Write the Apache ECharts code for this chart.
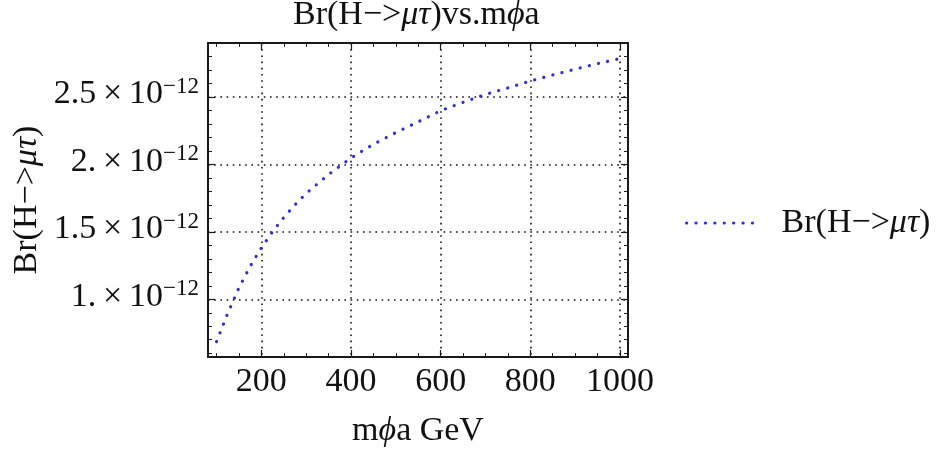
<!DOCTYPE html>
<html>
<head>
<meta charset="utf-8">
<script src="https://cdn.jsdelivr.net/npm/echarts@6/dist/echarts.min.js"></script>
<style>
  html, body { margin: 0; padding: 0; background: #ffffff; }
  #chart { width: 941px; height: 453px; }
</style>
</head>
<body>
<div id="chart"></div>
<script>
// Scalar mass m_phi_a (GeV)
const massGeV = [100, 125, 150, 175, 200, 225, 250, 275, 300, 350, 400, 450,
                 500, 550, 600, 650, 700, 750, 800, 850, 900, 950, 1000];
// Branching ratio Br(H -> mu tau) at each mass
const branching = [0.686e-12, 0.896e-12, 1.085e-12, 1.244e-12, 1.381e-12, 1.501e-12,
                   1.606e-12, 1.700e-12, 1.785e-12, 1.925e-12, 2.048e-12, 2.149e-12,
                   2.236e-12, 2.316e-12, 2.398e-12, 2.460e-12, 2.519e-12, 2.567e-12,
                   2.618e-12, 2.663e-12, 2.706e-12, 2.747e-12, 2.785e-12];

// Tick positions
const xMajorTicks = [200, 400, 600, 800, 1000];
const xMinorTicks = [100, 150, 250, 300, 350, 450, 500, 550, 650, 700, 750, 850, 900, 950];
const yMajorTicks = [1.0e-12, 1.5e-12, 2.0e-12, 2.5e-12];
const yMinorTicks = [0.6e-12, 0.7e-12, 0.8e-12, 0.9e-12, 1.1e-12, 1.2e-12, 1.3e-12, 1.4e-12,
                     1.6e-12, 1.7e-12, 1.8e-12, 1.9e-12, 2.1e-12, 2.2e-12, 2.3e-12, 2.4e-12,
                     2.6e-12, 2.7e-12, 2.8e-12];

const xRange = [81, 1018];
const yRange = [0.572e-12, 2.9e-12];

const seriesName = 'Br(H\u2212>\u03bc\u03c4)';

const FONT = 'Liberation Serif';
const INK = '#111111';
const FRAME = '#1a1a1a';
const CURVE = '#2f2fd2';

const italic = { fontFamily: FONT, fontSize: 34, fontStyle: 'italic', color: INK };

// "2.5 x 10^-12" style labels
function sciLabel(v) {
  const m = Math.round(v / 1e-12 * 10) / 10;
  const mant = Number.isInteger(m) ? m + '.' : String(m);
  return '{m|' + mant + '\u2009\u00d7\u200910}{e|\u221212}';
}

const frameLine = { show: true, onZero: false, lineStyle: { color: FRAME, width: 2 } };
const noLine = { show: false, onZero: false };
const gridDots = { show: true, lineStyle: { color: INK, width: 1.6, type: [1.6, 4.6] } };

function majorTick(values) {
  return { show: true, inside: true, length: 7, customValues: values, lineStyle: { color: FRAME, width: 1.2 } };
}
function minorTick(values) {
  return { show: true, inside: true, length: 4, customValues: values, lineStyle: { color: FRAME, width: 1 } };
}

const chart = echarts.init(document.getElementById('chart'));

chart.setOption({
  animation: false,
  backgroundColor: '#ffffff',
  title: {
    text: 'Br(H\u2212>{i|\u03bc\u03c4})vs.m{i|\u03d5}a',
    left: 293,
    top: -2,
    padding: 0,
    textStyle: { fontFamily: FONT, fontSize: 34, fontWeight: 'normal', color: INK, rich: { i: italic } }
  },
  legend: {
    data: [seriesName],
    left: 685,
    top: 206,
    padding: 0,
    itemWidth: 72,
    itemHeight: 14,
    itemStyle: { opacity: 0 },
    lineStyle: { color: CURVE, width: 3.2, type: [0.1, 9.3], cap: 'round' },
    formatter: () => 'Br(H\u2212>{i|\u03bc\u03c4})',
    textStyle: { fontFamily: FONT, fontSize: 34, color: INK, padding: [0, 0, 0, 18], rich: { i: italic } }
  },
  grid: { left: 208, top: 43, width: 420, height: 314, containLabel: false, outerBoundsMode: 'none' },
  xAxis: [
    {
      type: 'value', position: 'bottom', min: xRange[0], max: xRange[1],
      axisLine: frameLine,
      axisTick: majorTick(xMajorTicks),
      axisLabel: {
        show: true, customValues: xMajorTicks, margin: 8,
        formatter: v => String(v),
        fontFamily: FONT, fontSize: 34, color: INK
      },
      splitLine: gridDots,
      name: 'm{i|\u03d5}a GeV',
      nameLocation: 'middle',
      nameGap: 57,
      nameTextStyle: { fontFamily: FONT, fontSize: 34, color: INK, rich: { i: italic } }
    },
    {
      type: 'value', position: 'bottom', min: xRange[0], max: xRange[1],
      axisLine: noLine, axisTick: minorTick(xMinorTicks),
      axisLabel: { show: false }, splitLine: { show: false }
    },
    {
      type: 'value', position: 'top', min: xRange[0], max: xRange[1],
      axisLine: frameLine, axisTick: majorTick(xMajorTicks),
      axisLabel: { show: false }, splitLine: { show: false }
    },
    {
      type: 'value', position: 'top', min: xRange[0], max: xRange[1],
      axisLine: noLine, axisTick: minorTick(xMinorTicks),
      axisLabel: { show: false }, splitLine: { show: false }
    }
  ],
  yAxis: [
    {
      type: 'value', position: 'left', min: yRange[0], max: yRange[1],
      axisLine: frameLine,
      axisTick: majorTick(yMajorTicks),
      axisLabel: {
        show: true, customValues: yMajorTicks, margin: 9, padding: [0, 0, 7, 0],
        formatter: sciLabel,
        rich: {
          m: { fontFamily: FONT, fontSize: 34, lineHeight: 36, verticalAlign: 'bottom', color: INK },
          e: { fontFamily: FONT, fontSize: 23, lineHeight: 23, verticalAlign: 'top', color: INK }
        }
      },
      splitLine: gridDots,
      name: 'Br(H\u2212>{i|\u03bc\u03c4})',
      nameLocation: 'middle',
      nameGap: 164,
      nameTextStyle: { fontFamily: FONT, fontSize: 34, color: INK, rich: { i: italic } }
    },
    {
      type: 'value', position: 'left', min: yRange[0], max: yRange[1],
      axisLine: noLine, axisTick: minorTick(yMinorTicks),
      axisLabel: { show: false }, splitLine: { show: false }
    },
    {
      type: 'value', position: 'right', min: yRange[0], max: yRange[1],
      axisLine: frameLine, axisTick: majorTick(yMajorTicks),
      axisLabel: { show: false }, splitLine: { show: false }
    },
    {
      type: 'value', position: 'right', min: yRange[0], max: yRange[1],
      axisLine: noLine, axisTick: minorTick(yMinorTicks),
      axisLabel: { show: false }, splitLine: { show: false }
    }
  ],
  series: [
    {
      name: seriesName,
      type: 'line',
      xAxisIndex: 0,
      yAxisIndex: 0,
      data: massGeV.map((m, i) => [m, branching[i]]),
      symbol: 'none',
      showSymbol: false,
      silent: true,
      lineStyle: { color: CURVE, width: 3.2, type: [0.1, 9.3], cap: 'round' }
    }
  ]
});
</script>
</body>
</html>
